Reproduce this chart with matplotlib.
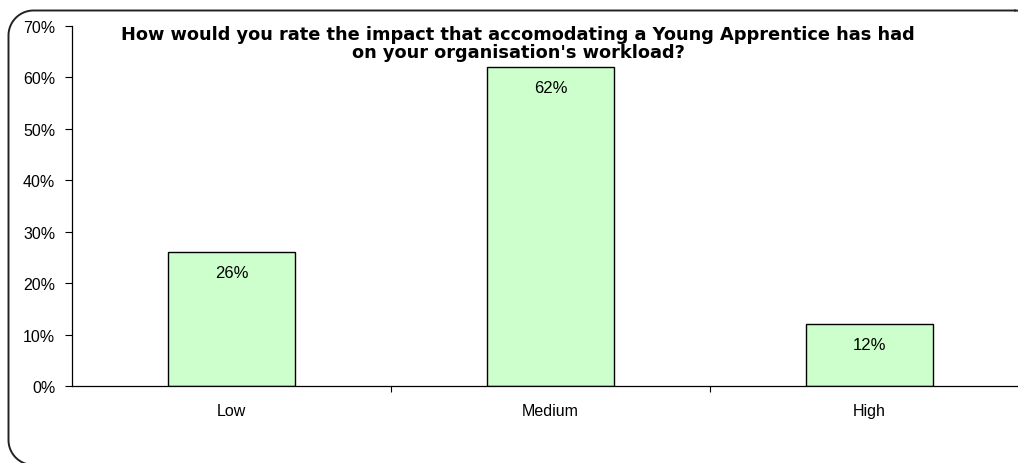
import matplotlib
matplotlib.use("Agg")
import numpy as np
import matplotlib.pyplot as plt
from matplotlib.ticker import PercentFormatter

categories = ["Low", "Medium", "High"]
values = [26, 62, 12]
yticks = [0, 10, 20, 30, 40, 50, 60, 70]
title = ("How would you rate the impact that accomodating a Young Apprentice has had\n"
         "on your organisation's workload?")

W, H = 1018, 464
fig = plt.figure(figsize=(W / 100, H / 100), dpi=100)

# pixel-space overlay for the rounded chart frame (its right and bottom sides run off the canvas)
bg = fig.add_axes([0, 0, 1, 1])
bg.set_xlim(0, W)
bg.set_ylim(H, 0)
bg.axis("off")


def rounded_outline(x0, y0, x1, y1, r, n=24):
    corners = [(x1 - r, y0 + r, -90, 0), (x1 - r, y1 - r, 0, 90),
               (x0 + r, y1 - r, 90, 180), (x0 + r, y0 + r, 180, 270)]
    xs, ys = [], []
    for cx, cy, a0, a1 in corners:
        t = np.radians(np.linspace(a0, a1, n))
        xs.extend(cx + r * np.cos(t))
        ys.extend(cy + r * np.sin(t))
    xs.append(xs[0])
    ys.append(ys[0])
    return xs, ys


fx, fy = rounded_outline(8.5, 11.5, 1040, 466, 25)
bg.plot(fx, fy, color="#222222", linewidth=1.4, solid_capstyle="round")

left, right = 72 / W, 1029 / W
bottom, top = 1 - 387 / H, 1 - 27 / H
ax = fig.add_axes([left, bottom, right - left, top - bottom])

x = range(len(categories))
bars = ax.bar(x, values, width=0.4, color="#CCFFCC", edgecolor="black", linewidth=1.0, zorder=2)

for b, v in zip(bars, values):
    ax.annotate(f"{v}%", (b.get_x() + b.get_width() / 2, v), xytext=(0, -20),
                textcoords="offset pixels",
                ha="center", va="center", fontsize=12, family="Liberation Sans")

ax.set_xlim(-0.5, 2.5)
ax.set_ylim(0, 70)
ax.set_yticks(yticks)
ax.yaxis.set_major_formatter(PercentFormatter(decimals=0))
ax.set_xticks(list(x))
ax.set_xticklabels(categories)
ax.set_xticks([0.5, 1.5], minor=True)
ax.tick_params(axis="x", which="major", length=0, pad=12)
ax.tick_params(axis="x", which="minor", length=4, direction="out", width=0.8)
ax.tick_params(axis="y", length=5, direction="out", width=0.8, pad=7)
for lbl in ax.get_xticklabels() + ax.get_yticklabels():
    lbl.set_family("Liberation Sans")
    lbl.set_fontsize(11.5)

ax.spines["top"].set_visible(False)
ax.spines["right"].set_visible(False)
for s in ("left", "bottom"):
    ax.spines[s].set_linewidth(0.9)

fig.text(518 / W, 1 - 44 / H, title, ha="center", va="center", fontsize=12.8,
         fontweight="bold", family="DejaVu Sans", linespacing=1.0)

fig.savefig("out.png", dpi=100)
